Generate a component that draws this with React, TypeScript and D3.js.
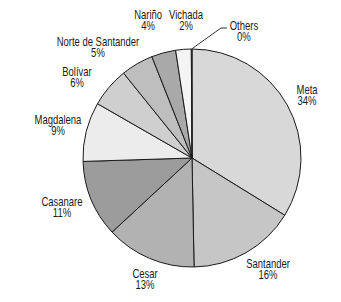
import React from "react";
import * as d3 from "d3";

const categories = ["Meta", "Santander", "Cesar", "Casanare", "Magdalena", "Bolívar", "Norte de Santander", "Nariño", "Vichada", "Others"];
const values = [33.8, 15.9, 13.4, 11.4, 8.8, 5.9, 4.8, 3.6, 2.3, 0.1];
const percentLabels = ["34%", "16%", "13%", "11%", "9%", "6%", "5%", "4%", "2%", "0%"];
const fills = ["#d8d8d8", "#c6c6c6", "#b2b2b2", "#9c9c9c", "#ececec", "#cfcfcf", "#bebebe", "#a9a9a9", "#f4f4f4", "#ffffff"];
// label placement (polar, relative to pie centre): angle in degrees clockwise from top, radius in px
const labelAngles = [61.5, 145.7, 201.2, 249.2, 283.6, 305.0, 319.6, 342.3, 357.5, 22.3];
const labelRadii = [130.9, 134.9, 129.8, 139.1, 137.9, 140.4, 145.1, 144.4, 137.6, 136.8];

const W = 341, H = 302;
const cx = 192, cy = 158, R = 109;

export default function App() {
  const pie = d3.pie<number>().sort(null).value((d) => d)(values);
  const arc = d3.arc<d3.PieArcDatum<number>>().innerRadius(0).outerRadius(R);
  const others = pie[pie.length - 1];
  const oa = (others.startAngle + others.endAngle) / 2;
  const p0: [number, number] = [cx + R * Math.sin(oa), cy - R * Math.cos(oa)];
  const p1: [number, number] = [cx + 29, cy - 130];
  const p2: [number, number] = [cx + 35, cy - 130];
  const line = d3.line()([p0, p1, p2]) || "";
  const font = "'Liberation Sans', Arial, sans-serif";
  return (
    <div style={{ position: "absolute", left: 0, top: 0 }}>
      <svg width={W} height={H} style={{ display: "block", background: "#fff" }}>
        <g transform={`translate(${cx},${cy})`}>
          {pie.map((d, i) => (
            <path key={i} d={arc(d) || ""} fill={fills[i]} stroke="#1a1a1a" strokeWidth={1} strokeLinejoin="round" />
          ))}
        </g>
        <path d={line} fill="none" stroke="#333" strokeWidth={1} />
        {categories.map((c, i) => {
          const a = (labelAngles[i] * Math.PI) / 180;
          const x = cx + labelRadii[i] * Math.sin(a);
          const y = cy - labelRadii[i] * Math.cos(a);
          return (
            <g key={c} transform={`translate(${x},${y}) scale(0.79,1)`}>
              <text x={0} y={0} textAnchor="middle" fontFamily={font} fontSize={12} fill="#1a1a1a">
                <tspan x={0} dy={-1.5}>{c}</tspan>
                <tspan x={0} dy={11.2}>{percentLabels[i]}</tspan>
              </text>
            </g>
          );
        })}
      </svg>
    </div>
  );
}
